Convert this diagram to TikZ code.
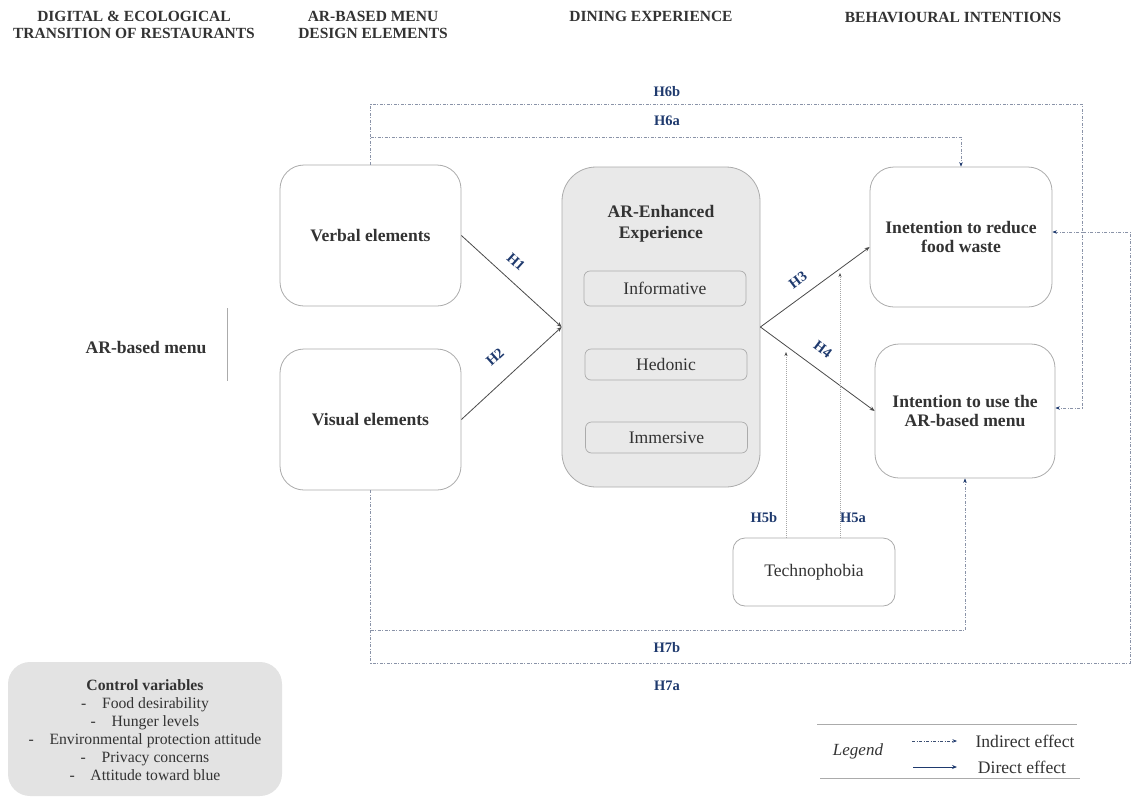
\documentclass[tikz,border=0pt]{standalone}
\usepackage{fontspec}
\setmainfont{Liberation Serif}
\usetikzlibrary{arrows.meta,calc}
\definecolor{ink}{HTML}{333333}
\definecolor{hblue}{HTML}{1F3A6E}
\definecolor{boxline}{HTML}{ABABAB}
\definecolor{panel}{HTML}{E9E9E9}
\definecolor{ctrl}{HTML}{E3E3E3}
\definecolor{indline}{HTML}{8A93A8}
\definecolor{dirline}{HTML}{4A4A4A}

\begin{document}
\begin{tikzpicture}[x=1pt,y=-1pt,
  every node/.style={text=ink},
  head/.style={font=\fontsize{15.5}{17}\selectfont\bfseries, align=center},
  bodyfont/.style={font=\fontsize{17.6}{19.5}\selectfont},
  box/.style={draw=boxline, line width=0.8pt, rounded corners=24pt, fill=white,
    font=\fontsize{17.6}{19.5}\selectfont\bfseries, align=center},
  subbox/.style={draw=boxline, line width=0.7pt, rounded corners=6pt, fill=panel,
    minimum width=162pt, bodyfont},
  hyp/.style={text=hblue, font=\fontsize{14.5}{16}\selectfont\bfseries},
  direct/.style={draw=dirline, line width=0.8pt, -{Stealth[length=5pt,width=4pt]}},
  indirect/.style={draw=indline, line width=0.6pt,
    dash pattern=on 3pt off 1.5pt on 1pt off 1.5pt,
    -{Stealth[length=4.5pt,width=3.5pt,color=hblue]}},
  moder/.style={draw=gray!70, line width=0.6pt, dash pattern=on 1pt off 1pt,
    -{Stealth[length=4pt,width=3pt,color=dirline]}}
]
\useasboundingbox (0,0) rectangle (1133,796);

% column headings
\node[head] (hd1) at (134,25) {DIGITAL \& ECOLOGICAL\\TRANSITION OF RESTAURANTS};
\node[head] (hd2) at (373,25) {AR-BASED MENU\\DESIGN ELEMENTS};
\node[head] (hd3) at (651,16) {DINING EXPERIENCE};
\node[head] (hd4) at (953,17) {BEHAVIOURAL INTENTIONS};

% left label and divider
\node[font=\fontsize{17.6}{19.5}\selectfont\bfseries] (armenu) at (146,347) {AR-based menu};
\draw[boxline, line width=0.8pt] (227,308) -- (227,381);

% design elements
\node[box, minimum width=181pt, minimum height=141pt] (verbal) at (370.5,235.5) {Verbal elements};
\node[box, minimum width=181pt, minimum height=141pt] (visual) at (370.5,419.5) {Visual elements};

% AR-enhanced experience
\node[box, fill=panel, rounded corners=34pt, minimum width=198pt, minimum height=320pt] (are) at (661,327) {};
\node[font=\fontsize{17.6}{21}\selectfont\bfseries, align=center] (aretitle) at (661,224) {AR-Enhanced\\Experience};
\node[subbox, minimum height=35pt] (info) at (665,288.5) {Informative};
\node[subbox, minimum height=31pt] (hedo) at (666,364.5) {Hedonic};
\node[subbox, minimum height=31pt] (imme) at (666.5,437.5) {Immersive};

% behavioural intentions
\node[box, minimum width=182pt, minimum height=140pt] (reduce) at (961,237) {Inetention to reduce\\food waste};
\node[box, minimum width=180pt, minimum height=134pt] (use) at (965,411) {Intention to use the\\AR-based menu};

% moderator
\node[box, rounded corners=12pt, minimum width=162pt, minimum height=68pt,
  font=\fontsize{17.6}{19.5}\selectfont] (techno) at (814,572) {Technophobia};

% direct effects
\draw[direct] (verbal.east) -- (are.west);
\draw[direct] (visual.east) -- (are.west);
\draw[direct] (are.east) -- ([yshift=-10pt]reduce.west);
\draw[direct] (are.east) -- (use.west);

\node[hyp, rotate=-42] (h1) at (516,262) {H1};
\node[hyp, rotate=42] (h2) at (495,357) {H2};
\node[hyp, rotate=37] (h3) at (798,280) {H3};
\node[hyp, rotate=-37] (h4) at (823,349) {H4};

% moderation by technophobia
\coordinate (m5b) at (786,352);
\coordinate (m5a) at (840,273);
\draw[moder] (techno.north -| m5b) -- (m5b);
\draw[moder] (techno.north -| m5a) -- (m5a);
\node[hyp] (h5b) at (764,518) {H5b};
\node[hyp] (h5a) at (853,518) {H5a};

% indirect effects, upper routes
\coordinate (t6b) at (370.5,104);
\coordinate (t6a) at (370.5,137);
\coordinate (r6b) at (1082,104);
\draw[indirect] (verbal.north) -- (t6b) -- (r6b) |- ([yshift=3pt]use.east);
\draw[indirect] (t6a) -| (reduce.north);
\node[hyp] (h6b) at (667,92) {H6b};
\node[hyp] (h6a) at (667,121) {H6a};

% indirect effects, lower routes
\coordinate (b7b) at (370.5,630);
\coordinate (b7a) at (370.5,663);
\coordinate (r7a) at (1130,663);
\draw[indirect] (visual.south) -- (b7a) -- (r7a) |- ([yshift=5pt]reduce.east);
\draw[indirect] (b7b) -| (use.south);
\node[hyp] (h7b) at (667,648) {H7b};
\node[hyp] (h7a) at (667,686) {H7a};

% control variables
\node[fill=ctrl, rounded corners=22pt, minimum width=274pt, minimum height=134pt] (ctrlbox) at (145,729) {};
\node[align=center, font=\fontsize{15.7}{18}\selectfont] (ctrltext) at (145,730)
  {\textbf{Control variables}\\
   -\quad Food desirability\\
   -\quad Hunger levels\\
   -\quad Environmental protection attitude\\
   -\quad Privacy concerns\\
   -\quad Attitude toward blue};

% legend
\draw[boxline, line width=0.8pt] (817,724) -- (1077,724);
\draw[boxline, line width=0.8pt] (820,778) -- (1080,778);
\node[font=\fontsize{17}{19}\selectfont\itshape] (leg) at (858,751) {Legend};
\coordinate (li0) at (912,741);
\coordinate (li1) at (957,741);
\coordinate (ld0) at (913,767);
\coordinate (ld1) at (957,767);
\draw[indirect, draw=hblue!70!gray] (li0) -- (li1);
\draw[direct, draw=hblue] (ld0) -- (ld1);
\node[bodyfont] (lind) at (1025,741) {Indirect effect};
\node[bodyfont] (ldir) at (1022,767) {Direct effect};
\end{tikzpicture}
\end{document}
